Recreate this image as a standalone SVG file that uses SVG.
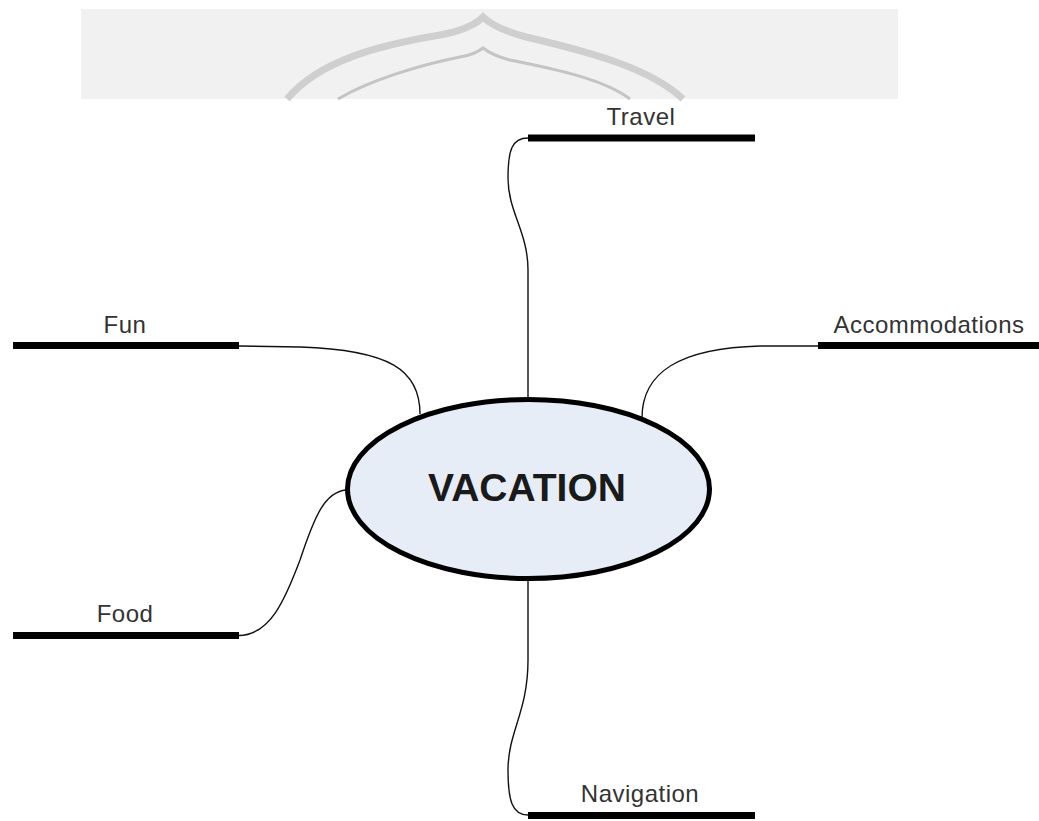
<svg xmlns="http://www.w3.org/2000/svg" width="1039" height="821" viewBox="0 0 1039 821">
  <style>
    .label { font-family: "Liberation Sans", Arial, sans-serif; font-size: 24px; fill: #333333; text-anchor: middle; letter-spacing: 0.5px; }
    .bar { stroke: #000000; stroke-width: 7; fill: none; }
    .link { stroke: #111111; stroke-width: 1.4; fill: none; }
    .core { fill: #e6edf7; stroke: #000000; stroke-width: 5; }
    .title { font-family: "Liberation Sans", Arial, sans-serif; font-size: 39px; font-weight: bold; fill: #1a1a1a; text-anchor: middle; }
  </style>

  <rect width="1039" height="821" fill="#ffffff"/>

  <!-- header band with faint arch emblem -->
  <g id="header">
    <rect x="81" y="9" width="817" height="90" fill="#f1f1f1"/>
    <path d="M287,99 C320,60 380,45 440,35 C462,31 476,24 483,17 C490,24 504,31 526,37 C590,52 650,68 683,99" fill="none" stroke="#cfcfcf" stroke-width="7"/>
    <path d="M338,99 C370,80 420,65 460,57 C472,55 478,52 483,48 C488,52 494,56 510,60 C560,70 605,80 630,99" fill="none" stroke="#c4c4c4" stroke-width="3"/>
  </g>

  <!-- connectors from the central topic to each branch -->
  <g id="connectors">
    <path class="link" d="M528,398 L528,270 C528,232 508,212 508,178 C508,150 512,138 528,138"/>
    <path class="link" d="M528,581 L528,660 C528,712 508,732 508,770 C508,800 512,815 528,815"/>
    <path class="link" d="M239,346 L300,347 C390,350 420,370 420,414"/>
    <path class="link" d="M818,346 L760,346 C680,348 642,372 642,418"/>
    <path class="link" d="M239,635.5 C270,635 285,600 300,560 C315,515 325,492 346,490"/>
  </g>

  <g id="vacation">
    <ellipse class="core" cx="528.5" cy="489" rx="181" ry="89.5"/>
    <text class="title" x="527" y="501">VACATION</text>
  </g>

  <g id="travel">
    <line class="bar" x1="528" y1="138" x2="755" y2="138"/>
    <text class="label" x="641" y="125">Travel</text>
  </g>

  <g id="fun">
    <line class="bar" x1="13" y1="345.5" x2="239" y2="345.5"/>
    <text class="label" x="125" y="333">Fun</text>
  </g>

  <g id="accommodations">
    <line class="bar" x1="818" y1="345.5" x2="1039" y2="345.5"/>
    <text class="label" x="929" y="333">Accommodations</text>
  </g>

  <g id="food">
    <line class="bar" x1="13" y1="635.5" x2="239" y2="635.5"/>
    <text class="label" x="125" y="622">Food</text>
  </g>

  <g id="navigation">
    <line class="bar" x1="528" y1="815.5" x2="755" y2="815.5"/>
    <text class="label" x="640" y="802">Navigation</text>
  </g>
</svg>
